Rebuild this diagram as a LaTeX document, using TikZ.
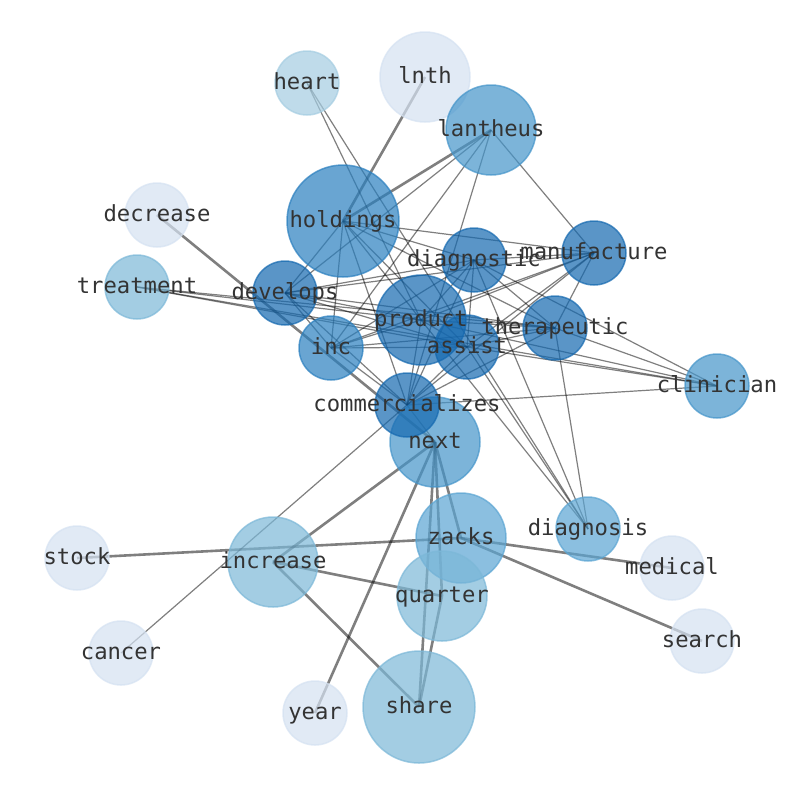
\documentclass[tikz,border=0pt]{standalone}
\usepackage{fontspec}
\setmonofont{DejaVu Sans Mono}
\usepackage{tikz}
\pgfdeclarelayer{edges}
\pgfsetlayers{edges,main}
\definecolor{blueA}{RGB}{21,105,176}
\definecolor{blueB}{RGB}{42,127,191}
\definecolor{blueC}{RGB}{69,149,202}
\definecolor{blueD}{RGB}{91,165,211}
\definecolor{blueE}{RGB}{124,184,216}
\definecolor{blueF}{RGB}{165,205,226}
\definecolor{blueG}{RGB}{213,226,242}

\begin{document}
\begin{tikzpicture}[x=1pt,y=-1pt,
  bub/.style 2 args={circle,minimum size=#1,fill=#2,draw=#2,line width=1.5pt,fill opacity=0.7,draw opacity=0.7},
  word/.style={font=\ttfamily\fontsize{22.2}{26}\selectfont,text=black!80,text height=17.6pt,text depth=4.9pt},
  thin/.style={draw=black,opacity=0.5,line width=1.2pt},
  heavy/.style={draw=black,opacity=0.5,line width=2.6pt}]
\tikzstyle{every node}+=[inner sep=0pt]
\useasboundingbox (0,0) rectangle (794,790);
\node [bub={90}{blueG}] (lnth) at (425,77) {};
\node [bub={64}{blueF}] (heart) at (307,83) {};
\node [bub={90}{blueC}] (lantheus) at (491,130) {};
\node [bub={112}{blueB}] (holdings) at (343,221) {};
\node [bub={64}{blueG}] (decrease) at (157,215) {};
\node [bub={64}{blueE}] (treatment) at (137,287) {};
\node [bub={64}{blueA}] (develops) at (285,293) {};
\node [bub={64}{blueA}] (diagnostic) at (474,260) {};
\node [bub={64}{blueA}] (manufacture) at (594,253) {};
\node [bub={90}{blueA}] (product) at (421,320) {};
\node [bub={64}{blueA}] (therapeutic) at (555,328) {};
\node [bub={64}{blueA}] (assist) at (467,347) {};
\node [bub={64}{blueB}] (inc) at (331,348) {};
\node [bub={64}{blueC}] (clinician) at (717,386) {};
\node [bub={90}{blueC}] (next) at (435,442) {};
\node [bub={64}{blueA}] (commercializes) at (407,405) {};
\node [bub={90}{blueD}] (zacks) at (461,538) {};
\node [bub={64}{blueD}] (diagnosis) at (588,529) {};
\node [bub={64}{blueG}] (medical) at (672,568) {};
\node [bub={64}{blueG}] (stock) at (77,558) {};
\node [bub={90}{blueE}] (increase) at (273,562) {};
\node [bub={90}{blueE}] (quarter) at (442,596) {};
\node [bub={64}{blueG}] (cancer) at (121,653) {};
\node [bub={64}{blueG}] (search) at (702,641) {};
\node [bub={64}{blueG}] (year) at (315,713) {};
\node [bub={112}{blueE}] (share) at (419,707) {};
\begin{pgfonlayer}{edges}
\fill [white] (0,0) rectangle (794,790);
\draw [heavy] (lnth.center) -- (holdings.center);
\draw [heavy] (lantheus.center) -- (holdings.center);
\draw [heavy] (decrease.center) -- (next.center);
\draw [heavy] (next.center) -- (increase.center);
\draw [heavy] (next.center) -- (year.center);
\draw [heavy] (next.center) -- (share.center);
\draw [heavy] (next.center) -- (quarter.center);
\draw [heavy] (next.center) -- (zacks.center);
\draw [heavy] (quarter.center) -- (share.center);
\draw [heavy] (increase.center) -- (quarter.center);
\draw [heavy] (increase.center) -- (share.center);
\draw [heavy] (zacks.center) -- (stock.center);
\draw [heavy] (zacks.center) -- (medical.center);
\draw [heavy] (zacks.center) -- (search.center);
\draw [thin] (holdings.center) -- (inc.center);
\draw [thin] (holdings.center) -- (develops.center);
\draw [thin] (holdings.center) -- (manufacture.center);
\draw [thin] (holdings.center) -- (commercializes.center);
\draw [thin] (holdings.center) -- (diagnostic.center);
\draw [thin] (holdings.center) -- (therapeutic.center);
\draw [thin] (holdings.center) -- (product.center);
\draw [thin] (holdings.center) -- (assist.center);
\draw [thin] (inc.center) -- (develops.center);
\draw [thin] (inc.center) -- (manufacture.center);
\draw [thin] (inc.center) -- (commercializes.center);
\draw [thin] (inc.center) -- (diagnostic.center);
\draw [thin] (inc.center) -- (therapeutic.center);
\draw [thin] (inc.center) -- (product.center);
\draw [thin] (inc.center) -- (assist.center);
\draw [thin] (develops.center) -- (manufacture.center);
\draw [thin] (develops.center) -- (commercializes.center);
\draw [thin] (develops.center) -- (diagnostic.center);
\draw [thin] (develops.center) -- (therapeutic.center);
\draw [thin] (develops.center) -- (product.center);
\draw [thin] (develops.center) -- (assist.center);
\draw [thin] (manufacture.center) -- (commercializes.center);
\draw [thin] (manufacture.center) -- (diagnostic.center);
\draw [thin] (manufacture.center) -- (therapeutic.center);
\draw [thin] (manufacture.center) -- (product.center);
\draw [thin] (manufacture.center) -- (assist.center);
\draw [thin] (commercializes.center) -- (diagnostic.center);
\draw [thin] (commercializes.center) -- (therapeutic.center);
\draw [thin] (commercializes.center) -- (product.center);
\draw [thin] (commercializes.center) -- (assist.center);
\draw [thin] (diagnostic.center) -- (therapeutic.center);
\draw [thin] (diagnostic.center) -- (product.center);
\draw [thin] (diagnostic.center) -- (assist.center);
\draw [thin] (therapeutic.center) -- (product.center);
\draw [thin] (therapeutic.center) -- (assist.center);
\draw [thin] (product.center) -- (assist.center);
\draw [thin] (lantheus.center) -- (develops.center);
\draw [thin] (lantheus.center) -- (inc.center);
\draw [thin] (lantheus.center) -- (commercializes.center);
\draw [thin] (lantheus.center) -- (manufacture.center);
\draw [thin] (clinician.center) -- (diagnostic.center);
\draw [thin] (clinician.center) -- (therapeutic.center);
\draw [thin] (clinician.center) -- (product.center);
\draw [thin] (clinician.center) -- (assist.center);
\draw [thin] (clinician.center) -- (treatment.center);
\draw [thin] (clinician.center) -- (commercializes.center);
\draw [thin] (treatment.center) -- (therapeutic.center);
\draw [thin] (treatment.center) -- (product.center);
\draw [thin] (treatment.center) -- (assist.center);
\draw [thin] (heart.center) -- (product.center);
\draw [thin] (heart.center) -- (diagnosis.center);
\draw [thin] (cancer.center) -- (commercializes.center);
\draw [thin] (diagnosis.center) -- (product.center);
\draw [thin] (diagnosis.center) -- (assist.center);
\draw [thin] (diagnosis.center) -- (diagnostic.center);
\draw [thin] (diagnosis.center) -- (therapeutic.center);
\draw [thin] (next.center) -- (commercializes.center);
\end{pgfonlayer}
\node [word] (lnth-t) at (lnth) {lnth};
\node [word] (heart-t) at (heart) {heart};
\node [word] (lantheus-t) at (lantheus) {lantheus};
\node [word] (holdings-t) at (holdings) {holdings};
\node [word] (decrease-t) at (decrease) {decrease};
\node [word] (treatment-t) at (treatment) {treatment};
\node [word] (develops-t) at (develops) {develops};
\node [word] (diagnostic-t) at (diagnostic) {diagnostic};
\node [word] (manufacture-t) at (manufacture) {manufacture};
\node [word] (product-t) at (product) {product};
\node [word] (therapeutic-t) at (therapeutic) {therapeutic};
\node [word] (assist-t) at (assist) {assist};
\node [word] (inc-t) at (inc) {inc};
\node [word] (clinician-t) at (clinician) {clinician};
\node [word] (next-t) at (next) {next};
\node [word] (commercializes-t) at (commercializes) {commercializes};
\node [word] (zacks-t) at (zacks) {zacks};
\node [word] (diagnosis-t) at (diagnosis) {diagnosis};
\node [word] (medical-t) at (medical) {medical};
\node [word] (stock-t) at (stock) {stock};
\node [word] (increase-t) at (increase) {increase};
\node [word] (quarter-t) at (quarter) {quarter};
\node [word] (cancer-t) at (cancer) {cancer};
\node [word] (search-t) at (search) {search};
\node [word] (year-t) at (year) {year};
\node [word] (share-t) at (share) {share};
\end{tikzpicture}
\end{document}
